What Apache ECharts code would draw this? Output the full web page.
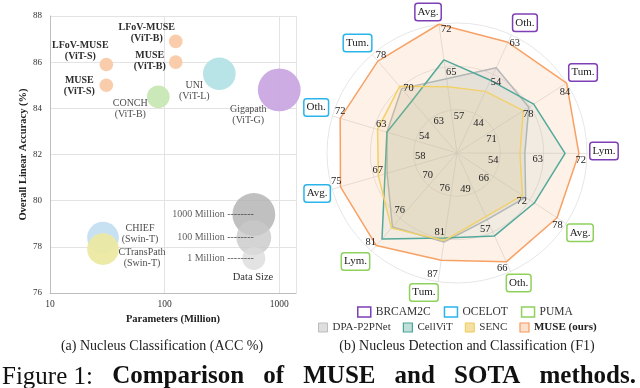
<!DOCTYPE html>
<html>
<head>
<meta charset="utf-8">
<script src="https://cdn.jsdelivr.net/npm/echarts@6/dist/echarts.min.js"></script>
<style>
  html, body { margin: 0; padding: 0; background: #fff; }
  #main { width: 640px; height: 388px; }
</style>
</head>
<body>
<div id="main"></div>
<script>
// (a) nucleus classification, bubble chart
var models = ['LFoV-MUSE (ViT-S)', 'MUSE (ViT-S)', 'LFoV-MUSE (ViT-B)', 'MUSE (ViT-B)', 'CONCH (ViT-B)',
  'UNI (ViT-L)', 'Gigapath (ViT-G)', 'CHIEF (Swin-T)', 'CTransPath (Swin-T)']
var paramsM = [31, 31, 125, 125, 88, 300, 1000, 29, 29]
var accuracy = [85.9, 85.0, 86.9, 86.0, 84.5, 85.5, 84.8, 78.4, 77.9]
var dataSizeM = [0.003, 0.003, 0.003, 0.003, 0.9, 49, 1000, 35, 35]
// data size key
var sizeKeyM = [1000, 100, 1]
var sizeKeyAcc = [79.4, 78.4, 77.5]
var sizeKeyParams = 600

// (b) nucleus detection and classification, radar (clockwise from top)
var radarAxes = ['Avg.', 'Oth.', 'Tum.', 'Lym.', 'Avg.', 'Oth.', 'Tum.', 'Lym.', 'Avg.', 'Oth.', 'Tum.']
var radarGroup = ['BRCAM2C', 'BRCAM2C', 'BRCAM2C', 'BRCAM2C', 'PUMA', 'PUMA', 'PUMA', 'PUMA', 'OCELOT', 'OCELOT', 'OCELOT']
var axisMin = [51, 33, 66, 42, 56, 32, 57, 64, 47, 42, 50]
var axisMax = [72, 65, 84, 74, 80, 69, 93, 82, 77, 74, 80]
var innerTicks = [57, 44, 71, 54, 66, 49, 76, 70, 58, 54, 63]
var middleTicks = [65, 54, 78, 63, 72, 57, 81, 76, 67, 63, 70]
var museF1 = [72, 63, 84, 72, 78, 66, 87, 81, 75, 72, 78]
var dpaF1 = [63.1, 56.1, 77.8, 58.7, 71.1, 52.8, 81.9, 77.6, 63.8, 60.0, 69.6]
var cellvitF1 = [66.2, 52.7, 78.6, 68.6, 73.0, 57.9, 80.8, 79.8, 64.3, 60.0, 65.9]
var sencF1 = [61.8, 49.7, 76.9, 57.5, 70.4, 51.9, 81.5, 77.8, 65.9, 62.4, 70.3]

var serif = '"Liberation Serif", "Times New Roman", serif'
var groupColor = { BRCAM2C: '#7d3fb6', OCELOT: '#2ab4ea', PUMA: '#8fd15c' }

// bubble look
var bubbleColor = ['#f9caa8', '#f9caa8', '#f9caa8', '#f9caa8', '#c8e7b4', '#b4e3e7', '#c9a8e2', '#c5dff1', '#ece9a2']
var labelOffset = [[-26, -14], [-27, 1], [-29, -8], [-26, -1], [-28, 12], [-25, 17], [-31, 25], [37, -4], [39, 9]]
var keyColor = ['#b0b0b0', '#c9c9c9', '#dcdcdc']
// where the boxed axis names sit: radius and angle nudge per axis
var nameR = [144, 147, 149.5, 147, 146.6, 144, 143.3, 148.6, 145.6, 148, 148.3]
var nameTurn = [-3.6, 2.8, 0, -1, 0, -1, 5, 2, 0, 1.4, -1.4]

function bubbleSize(m) {
  return 23 * Math.pow(m, 0.09)
}

// radar geometry, angles clockwise from top
var RC = [457, 153]
var RR = 130
var N = radarAxes.length
function axisAngle(k) { return -8 + k * 360 / N }
function polar(deg, r) {
  var a = deg * Math.PI / 180
  return [RC[0] + r * Math.sin(a), RC[1] - r * Math.cos(a)]
}
// echarts lays radar indicators counterclockwise
function ccw(arr) { return [arr[0]].concat(arr.slice(1).reverse()) }

var indicators = ccw(radarAxes.map(function (n, i) {
  return { name: radarGroup[i] + ' ' + n, min: axisMin[i], max: axisMax[i] }
}))

var bubbleData = models.map(function (m, i) {
  var bold = m.indexOf('MUSE') >= 0
  return {
    name: m,
    value: [paramsM[i], accuracy[i]],
    symbolSize: bubbleSize(dataSizeM[i]),
    itemStyle: { color: bubbleColor[i], opacity: 0.95 },
    label: {
      show: true, position: 'inside', offset: labelOffset[i],
      formatter: m.replace(' (', '\n('),
      fontFamily: serif, fontSize: 10, lineHeight: 11,
      fontWeight: bold ? 'bold' : 'normal', color: bold ? '#222' : '#444'
    }
  }
})

var keyData = sizeKeyM.map(function (m, i) {
  return {
    name: m + ' Million',
    value: [sizeKeyParams, sizeKeyAcc[i]],
    symbolSize: bubbleSize(m),
    itemStyle: { color: keyColor[i] },
    label: {
      show: true, position: 'inside', align: 'right',
      formatter: m + ' Million --------',
      fontFamily: serif, fontSize: 10, color: '#333'
    }
  }
})

var graphics = []
for (var k = 0; k < N; k++) {
  [[innerTicks, 37, 11], [middleTicks, 81, 4], [museF1, 124, 3]].forEach(function (t) {
    var p = polar(axisAngle(k) + t[2], t[1])
    graphics.push({
      type: 'text', x: p[0], y: p[1], z: 100,
      style: { text: String(t[0][k]), align: 'center', verticalAlign: 'middle',
        fontFamily: serif, fontSize: 10.5, fill: '#222' }
    })
  })
  // boxed axis name, border coloured by dataset
  var q = polar(axisAngle(k) + nameTurn[k], nameR[k])
  graphics.push({
    type: 'text', x: q[0], y: q[1], z: 100,
    style: { text: radarAxes[k], align: 'center', verticalAlign: 'middle',
      fontFamily: serif, fontSize: 11, fill: '#222', backgroundColor: '#fff',
      borderColor: groupColor[radarGroup[k]], borderWidth: 1.5, borderRadius: 2,
      padding: [3, 2, 2, 2] }
  })
}
graphics.push({ type: 'text', x: 253, y: 277, style: { text: 'Data Size', align: 'center', verticalAlign: 'middle', fontFamily: serif, fontSize: 10.5, fill: '#333' } })
graphics.push({ type: 'text', x: 162, y: 346, style: { text: '(a) Nucleus Classification (ACC %)', align: 'center', verticalAlign: 'middle', fontFamily: serif, fontSize: 14, fill: '#222' } })
graphics.push({ type: 'text', x: 467, y: 346, style: { text: '(b) Nucleus Detection and Classification (F1)', align: 'center', verticalAlign: 'middle', fontFamily: serif, fontSize: 14, fill: '#222' } })

// figure caption, justified across the width
var capWords = [['Figure 1:', false], ['Comparison', true], ['of', true], ['MUSE', true],
  ['and', true], ['SOTA', true], ['methods.', true]]
var capSize = 25
var ctx = document.createElement('canvas').getContext('2d')
var widths = capWords.map(function (w) {
  ctx.font = (w[1] ? 'bold ' : '') + capSize + 'px "Liberation Serif"'
  return ctx.measureText(w[0]).width
})
var total = widths.reduce(function (a, b) { return a + b }, 0)
var gap = (636 - 2 - total) / (capWords.length - 1)
var cx = 2
capWords.forEach(function (w, i) {
  graphics.push({ type: 'text', x: cx, y: 377, style: { text: w[0], align: 'left', verticalAlign: 'middle',
    fontFamily: serif, fontSize: capSize, fontWeight: w[1] ? 'bold' : 'normal', fill: '#111' } })
  cx += widths[i] + gap
})

function radarSeries(name, data, line, area) {
  return {
    type: 'radar', name: name, symbol: 'none',
    lineStyle: { color: line, width: 1.5 },
    itemStyle: { color: line },
    areaStyle: { color: area },
    data: [{ name: name, value: ccw(data) }]
  }
}

var chart = echarts.init(document.getElementById('main'))
chart.setOption({
  animation: false,
  grid: { left: 50, top: 16, width: 246, height: 277 },
  xAxis: {
    type: 'log', logBase: 10, min: 10, max: 1400,
    name: 'Parameters (Million)', nameLocation: 'middle', nameGap: 18,
    nameTextStyle: { fontFamily: serif, fontSize: 10.5, fontWeight: 'bold', color: '#222' },
    axisLine: { lineStyle: { color: '#bdbdbd' } },
    axisTick: { show: false },
    axisLabel: { fontFamily: serif, fontSize: 9.5, color: '#333', margin: 6,
      formatter: function (v) { return String(Math.round(v)) } },
    splitLine: { lineStyle: { color: '#e3e3e3' } }
  },
  yAxis: {
    type: 'value', min: 76, max: 88, interval: 2,
    name: 'Overall Linear Accuracy (%)', nameLocation: 'middle', nameGap: 14,
    nameTextStyle: { fontFamily: serif, fontSize: 10.5, fontWeight: 'bold', color: '#222' },
    axisLine: { show: true, lineStyle: { color: '#bdbdbd' } },
    axisTick: { show: false },
    axisLabel: { fontFamily: serif, fontSize: 9, color: '#333', margin: 8 },
    splitLine: { lineStyle: { color: '#e3e3e3' } }
  },
  radar: {
    center: RC, radius: RR, startAngle: 98, shape: 'circle', splitNumber: 3,
    indicator: indicators,
    axisName: { show: false },
    axisLine: { lineStyle: { color: '#dcdcdc', width: 0.8 } },
    splitLine: { lineStyle: { color: '#e6e6e6', width: 1 } },
    splitArea: { show: false },
    axisLabel: { show: false },
    axisTick: { show: false }
  },
  legend: [{
    data: ['BRCAM2C', 'OCELOT', 'PUMA'].map(function (g) {
      return { name: g, itemStyle: { color: '#fff', borderColor: groupColor[g], borderWidth: 1.5 } }
    }),
    left: 357, top: 306, padding: 0, icon: 'rect', itemWidth: 13, itemHeight: 10, itemGap: 13,
    selectedMode: false,
    textStyle: { fontFamily: serif, fontSize: 11.5, color: '#333' }
  }, {
    data: [
      { name: 'DPA-P2PNet', itemStyle: { color: '#dedede', borderColor: '#bcbcbc', borderWidth: 1 } },
      { name: 'CellViT', itemStyle: { color: '#bfe0d8', borderColor: '#4aa596', borderWidth: 1.2 } },
      { name: 'SENC', itemStyle: { color: '#f4e0a2', borderColor: '#efca58', borderWidth: 1 } },
      { name: 'MUSE (ours)', itemStyle: { color: '#fde1cd', borderColor: '#f59a5c', borderWidth: 1.2 } }
    ],
    left: 318, top: 322, padding: 0, icon: 'rect', itemWidth: 9, itemHeight: 9, itemGap: 12,
    selectedMode: false,
    formatter: function (n) { return n === 'MUSE (ours)' ? '{b|' + n + '}' : n },
    textStyle: { fontFamily: serif, fontSize: 11, color: '#333',
      rich: { b: { fontFamily: serif, fontSize: 11, fontWeight: 'bold', color: '#222' } } }
  }],
  graphic: graphics,
  series: [
    { type: 'scatter', name: 'models', data: bubbleData },
    { type: 'scatter', name: 'size key', data: keyData },
    radarSeries('MUSE (ours)', museF1, '#f7a063', 'rgba(250, 175, 125, 0.25)'),
    radarSeries('DPA-P2PNet', dpaF1, '#b9b9b9', 'rgba(175, 175, 175, 0.25)'),
    radarSeries('CellViT', cellvitF1, '#52a99a', 'rgba(110, 175, 155, 0.12)'),
    radarSeries('SENC', sencF1, '#f2d26a', 'rgba(235, 195, 110, 0.2)'),
    { type: 'radar', name: 'BRCAM2C', data: [] },
    { type: 'radar', name: 'OCELOT', data: [] },
    { type: 'radar', name: 'PUMA', data: [] }
  ]
})
</script>
</body>
</html>
